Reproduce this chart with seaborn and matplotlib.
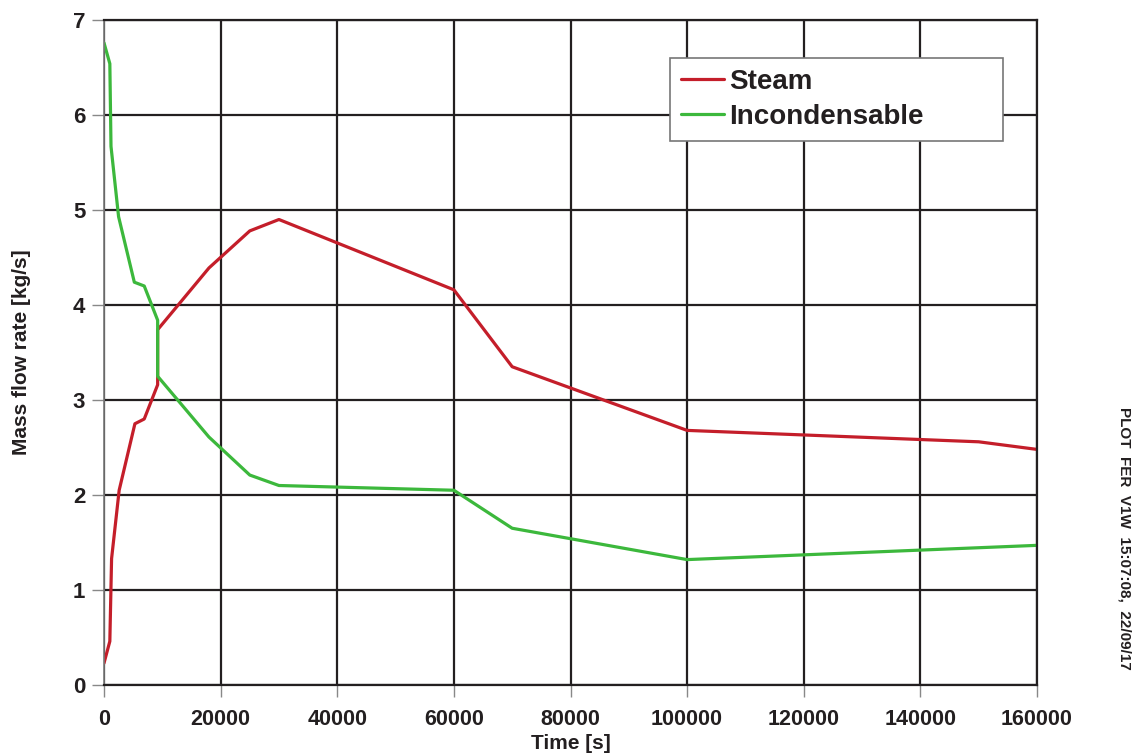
import matplotlib
matplotlib.use("Agg")
import matplotlib.pyplot as plt
import seaborn as sns
import pandas as pd

steam_t = [0, 1000, 1300, 2600, 5300, 6900, 9200, 9200, 9200, 18000, 25000, 30000, 60000, 70000, 100000, 150000, 160000]
steam_v = [0.23, 0.46, 1.33, 2.05, 2.75, 2.80, 3.16, 3.23, 3.74, 4.39, 4.78, 4.90, 4.16, 3.35, 2.68, 2.56, 2.48]

incond_t = [0, 1000, 1200, 2500, 5200, 6900, 9200, 9200, 18000, 25000, 30000, 60000, 70000, 100000, 160000]
incond_v = [6.76, 6.54, 5.67, 4.93, 4.24, 4.20, 3.84, 3.25, 2.61, 2.21, 2.10, 2.05, 1.65, 1.32, 1.47]

x_ticks = [0, 20000, 40000, 60000, 80000, 100000, 120000, 140000, 160000]
y_ticks = [0, 1, 2, 3, 4, 5, 6, 7]

df = pd.concat([
    pd.DataFrame({"Time": steam_t, "Flow": steam_v, "Series": "Steam"}),
    pd.DataFrame({"Time": incond_t, "Flow": incond_v, "Series": "Incondensable"}),
], ignore_index=True)

sns.set_theme(style="white")
plt.rcParams["font.family"] = ["Liberation Sans", "DejaVu Sans"]

fig = plt.figure(figsize=(11.37, 7.55), dpi=100)
ax = fig.add_axes([104/1137, 1-685/755, (1037-104)/1137, (685-20)/755])

sns.lineplot(data=df, x="Time", y="Flow", hue="Series", sort=False, estimator=None,
             palette={"Steam": "#c41e2a", "Incondensable": "#3cb83c"}, linewidth=2.3, ax=ax)

ax.set_xlim(0, 160000)
ax.set_ylim(0, 7)
ax.set_xticks(x_ticks)
ax.set_yticks(y_ticks)
ax.set_xticklabels([str(v) for v in x_ticks], fontsize=15.5, fontweight="bold", color="#231f20")
ax.set_yticklabels([str(v) for v in y_ticks], fontsize=16, fontweight="bold", color="#231f20")
ax.grid(True, color="#231f20", linewidth=1.6)
ax.set_axisbelow(True)
ax.tick_params(axis="both", direction="out", length=8.5, width=1, color="#888888",
               bottom=True, left=True)
ax.tick_params(axis="x", pad=9)
ax.tick_params(axis="y", pad=5)
for s in ax.spines.values():
    s.set_color("#231f20")
    s.set_linewidth(1.6)
ax.spines["left"].set_color("#777777")
ax.spines["left"].set_linewidth(1.2)

ax.set_xlabel("Time [s]", fontsize=15, fontweight="bold", color="#231f20", labelpad=3)
ax.set_ylabel("Mass flow rate [kg/s]", fontsize=15, fontweight="bold", color="#231f20")
ax.yaxis.set_label_coords((31-104)/933, 0.5)

lx0 = (670-104)/933
lw = (1003-670)/933
ltop = (685-58)/665
leg = ax.legend(loc="upper left", bbox_to_anchor=(lx0, ltop-0.1, lw, 0.1), mode="expand",
                frameon=True, fancybox=False, framealpha=1, edgecolor="#777777",
                prop={"size": 20, "weight": "bold"}, handlelength=1.55, handletextpad=0.18,
                borderpad=0.4, labelspacing=0.32, borderaxespad=0)
leg.get_frame().set_linewidth(1.2)
for t in leg.get_texts():
    t.set_color("#231f20")
leg.set_title(None)

fig.text(1125/1137, 1-538/755, "PLOT  FER  V1W  15:07:08,  22/09/17", rotation=-90,
         ha="center", va="center", fontsize=11, fontweight="bold", color="#231f20")

fig.savefig("out.png", dpi=100)
